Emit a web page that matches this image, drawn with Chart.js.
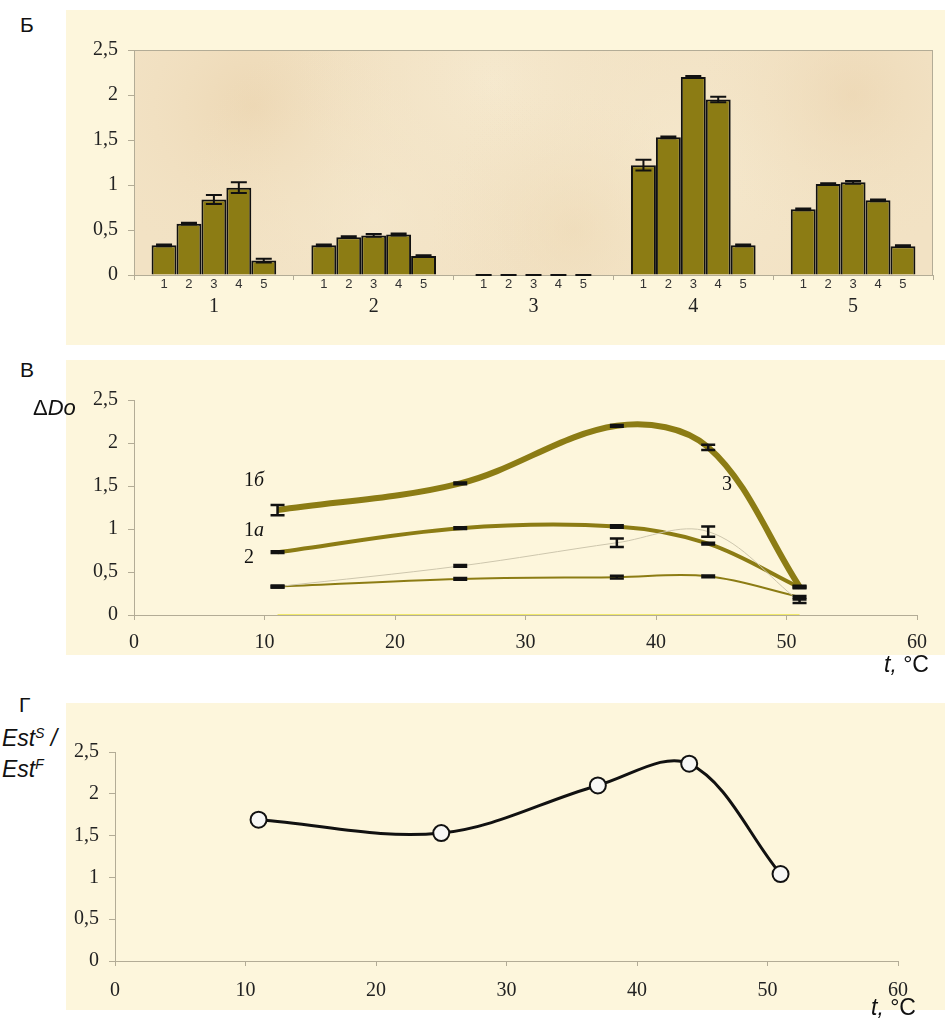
<!DOCTYPE html>
<html>
<head>
<meta charset="utf-8">
<script src="https://cdn.jsdelivr.net/npm/chart.js@4.4.0/dist/chart.umd.min.js"></script>
<style>
  body { margin: 0; background: #fff; width: 945px; height: 1023px; position: relative; overflow: hidden; font-family: "Liberation Sans", Arial, sans-serif; }
  .panel { position: absolute; left: 66px; width: 879px; background: #fdf6dc; }
  .panel canvas { position: absolute; left: 0; top: 0; }
  .lbl { position: absolute; color: #111; white-space: nowrap; line-height: 1; }
  .sans { font-family: "Liberation Sans", Arial, sans-serif; }
  .serif { font-family: "Liberation Serif", "Times New Roman", serif; }
  sup { font-size: 60%; vertical-align: 0.55em; }
</style>
</head>
<body>

<div class="panel" style="top:10px;height:335px"><canvas id="barChart" width="879" height="335"></canvas></div>
<div class="panel" style="top:360px;height:295px"><canvas id="curveChart" width="879" height="295"></canvas></div>
<div class="panel" style="top:703px;height:307px"><canvas id="ratioChart" width="879" height="307"></canvas></div>

<div class="lbl sans" style="left:20px;top:14px;font-size:21px">Б</div>
<div class="lbl sans" style="left:20px;top:359px;font-size:21px">В</div>
<div class="lbl sans" style="left:19px;top:694px;font-size:21px">Г</div>

<div class="lbl sans" style="left:33px;top:397px;font-size:22px">Δ<i>Do</i></div>
<div class="lbl sans" style="left:2px;top:727px;font-size:23px"><i>Est<sup>S</sup> /</i></div>
<div class="lbl sans" style="left:2px;top:758px;font-size:23px"><i>Est<sup>F</sup></i></div>
<div class="lbl sans" style="left:884px;top:653px;font-size:23px"><i>t,</i>&nbsp;°C</div>
<div class="lbl sans" style="left:871px;top:996px;font-size:23px"><i>t,</i>&nbsp;°C</div>

<div class="lbl serif" style="left:244px;top:469px;font-size:20px">1<i>б</i></div>
<div class="lbl serif" style="left:244px;top:519px;font-size:20px">1<i>а</i></div>
<div class="lbl serif" style="left:244px;top:546px;font-size:20px">2</div>
<div class="lbl serif" style="left:722px;top:473px;font-size:20px">3</div>

<script>
// температуры опыта, °C
const temps = [11, 25, 37, 44, 51];
const groupLabels = ['1', '2', '3', '4', '5'];
const subLabels = ['1', '2', '3', '4', '5'];
const yTicks = [0, 0.5, 1, 1.5, 2, 2.5];

// ΔDo по группам (столбцы панели Б, кривые панели В)
const group1 = [0.33, 0.57, 0.84, 0.97, 0.16];
const group2 = [0.33, 0.42, 0.44, 0.45, 0.21];
const group3 = [0, 0, 0, 0, 0];
const group4 = [1.22, 1.53, 2.20, 1.95, 0.33];
const group5 = [0.73, 1.01, 1.03, 0.83, 0.32];

// погрешности
const group1Err = [0.01, 0.01, 0.05, 0.06, 0.02];
const group2Err = [0.01, 0.01, 0.015, 0.01, 0.01];
const group3Err = [0, 0, 0, 0, 0];
const group4Err = [0.06, 0.01, 0.01, 0.03, 0.01];
const group5Err = [0.01, 0.01, 0.015, 0.01, 0.01];

// EstS / EstF (панель Г)
const ratio = [1.69, 1.53, 2.10, 2.36, 1.04];

const groups = [group1, group2, group3, group4, group5];
const groupErrs = [group1Err, group2Err, group3Err, group4Err, group5Err];

const OLIVE = '#8c7c14';
const AXIS = '#b3ac96';
const serif = '"Liberation Serif", "Times New Roman", serif';
const sans = '"Liberation Sans", Arial, sans-serif';

const commaTick = v => String(v).replace('.', ',');

/**
 * Погрешности (планки)
 */
const errorBars = {
  id: 'errorBars',
  afterDatasetsDraw(chart, args, opts) {
    const { ctx } = chart;
    const y = chart.scales.y;
    const w = opts.capWidth / 2;
    ctx.save();
    ctx.strokeStyle = '#111';
    ctx.lineWidth = opts.lineWidth;
    chart.data.datasets.forEach((ds, i) => {
      if (!ds.errors) return;
      const meta = chart.getDatasetMeta(i);
      meta.data.forEach((el, j) => {
        const err = ds.errors[j];
        const raw = ds.data[j];
        const v = typeof raw === 'object' ? raw.y : raw;
        const top = y.getPixelForValue(v + err);
        const bot = y.getPixelForValue(Math.max(v - err, 0));
        ctx.beginPath();
        ctx.moveTo(el.x, top); ctx.lineTo(el.x, bot);
        ctx.moveTo(el.x - w, top); ctx.lineTo(el.x + w, top);
        ctx.moveTo(el.x - w, bot); ctx.lineTo(el.x + w, bot);
        ctx.stroke();
      });
    });
    ctx.restore();
  }
};

/**
 * Фон области построения «пергамент»
 */
const parchment = {
  id: 'parchment',
  beforeDraw(chart) {
    const { ctx, chartArea: a } = chart;
    ctx.save();
    ctx.fillStyle = '#f2e2c4';
    ctx.fillRect(a.left, a.top, a.width, a.height);
    const spots = [
      [0.15, 0.25, 0.22, 'rgba(232,206,166,0.55)'],
      [0.45, 0.15, 0.25, 'rgba(248,238,214,0.6)'],
      [0.7, 0.55, 0.3, 'rgba(247,236,210,0.6)'],
      [0.9, 0.2, 0.2, 'rgba(233,208,170,0.5)'],
      [0.3, 0.75, 0.25, 'rgba(246,234,208,0.5)'],
      [0.55, 0.8, 0.18, 'rgba(236,214,176,0.45)']
    ];
    spots.forEach(([fx, fy, fr, col]) => {
      const cx = a.left + fx * a.width;
      const cy = a.top + fy * a.height;
      const r = fr * a.width;
      const g = ctx.createRadialGradient(cx, cy, 0, cx, cy, r);
      g.addColorStop(0, col);
      g.addColorStop(1, 'rgba(242,226,196,0)');
      ctx.fillStyle = g;
      ctx.fillRect(a.left, a.top, a.width, a.height);
    });
    ctx.strokeStyle = AXIS;
    ctx.lineWidth = 1;
    ctx.strokeRect(a.left + 0.5, a.top + 0.5, a.width - 1, a.height);
    ctx.restore();
  }
};

/**
 * Подписи 1..5 под каждым столбцом
 */
const subTicks = {
  id: 'subTicks',
  afterDraw(chart) {
    const { ctx, chartArea: a } = chart;
    ctx.save();
    ctx.fillStyle = '#333';
    ctx.font = '13px ' + sans;
    ctx.textAlign = 'center';
    ctx.textBaseline = 'middle';
    chart.data.datasets.forEach((ds, i) => {
      chart.getDatasetMeta(i).data.forEach(el => {
        ctx.fillText(subLabels[i], el.x, a.bottom + 9);
      });
    });
    ctx.restore();
  }
};

function yScale(width) {
  return {
    min: 0,
    max: 2.5,
    afterBuildTicks: s => { s.ticks = yTicks.map(v => ({ value: v })); },
    afterFit: s => { s.width = width; },
    border: { color: AXIS },
    grid: { drawOnChartArea: false, color: AXIS, tickLength: 6 },
    ticks: { padding: 10, color: '#222', font: { family: serif, size: 20 }, callback: commaTick }
  };
}

function tempScale(height, padding) {
  return {
    type: 'linear',
    min: 0,
    max: 60,
    afterFit: s => { s.height = height; },
    border: { color: AXIS },
    grid: { drawOnChartArea: false, color: AXIS, tickLength: 5 },
    ticks: { stepSize: 10, padding: padding, color: '#222', font: { family: serif, size: 20 } }
  };
}

const common = {
  responsive: false,
  animation: false,
  plugins: { legend: { display: false }, tooltip: { enabled: false } }
};

// Панель Б
new Chart(document.getElementById('barChart'), {
  type: 'bar',
  data: {
    labels: groupLabels,
    datasets: subLabels.map((s, i) => ({
      label: s,
      data: groups.map(g => g[i]),
      errors: groupErrs.map(e => e[i]),
      backgroundColor: OLIVE,
      borderColor: '#111',
      borderWidth: 2,
      borderSkipped: 'bottom',
      barPercentage: 1,
      categoryPercentage: 0.78
    }))
  },
  options: {
    ...common,
    layout: { padding: { top: 40, right: 12, left: 0, bottom: 0 } },
    plugins: { ...common.plugins, errorBars: { capWidth: 16, lineWidth: 2 } },
    scales: {
      x: {
        afterFit: s => { s.height = 70; },
        border: { color: AXIS },
        grid: { drawOnChartArea: false, color: AXIS, tickLength: 5, offset: true },
        ticks: { padding: 15, color: '#222', font: { family: serif, size: 20 } }
      },
      y: yScale(68)
    }
  },
  plugins: [parchment, errorBars, subTicks]
});

// Панель В
const curveStyles = [
  { color: '#cdc6ad', width: 1 },
  { color: OLIVE, width: 2 },
  { color: '#f0e86a', width: 2 },
  { color: OLIVE, width: 6 },
  { color: OLIVE, width: 4 }
];

new Chart(document.getElementById('curveChart'), {
  type: 'line',
  data: {
    datasets: groups.map((g, i) => ({
      label: groupLabels[i],
      data: temps.map((t, j) => ({ x: t, y: g[j] })),
      errors: i === 2 ? null : groupErrs[i],
      borderColor: curveStyles[i].color,
      borderWidth: curveStyles[i].width,
      pointRadius: 0,
      tension: 0.35,
      fill: false
    }))
  },
  options: {
    ...common,
    layout: { padding: { top: 40, right: 28, left: 0, bottom: 0 } },
    plugins: { ...common.plugins, errorBars: { capWidth: 14, lineWidth: 2.5 } },
    scales: {
      x: tempScale(40, 11),
      y: yScale(68)
    }
  },
  plugins: [errorBars]
});

// Панель Г
new Chart(document.getElementById('ratioChart'), {
  type: 'line',
  data: {
    datasets: [{
      label: 'EstS/EstF',
      data: temps.map((t, j) => ({ x: t, y: ratio[j] })),
      borderColor: '#111',
      borderWidth: 3,
      tension: 0.35,
      pointRadius: 8,
      pointBackgroundColor: '#f7f7f5',
      pointBorderColor: '#111',
      pointBorderWidth: 2,
      fill: false
    }]
  },
  options: {
    ...common,
    layout: { padding: { top: 49, right: 47, left: 0, bottom: 0 } },
    scales: {
      x: tempScale(49, 13),
      y: yScale(49)
    }
  }
});
</script>
</body>
</html>
